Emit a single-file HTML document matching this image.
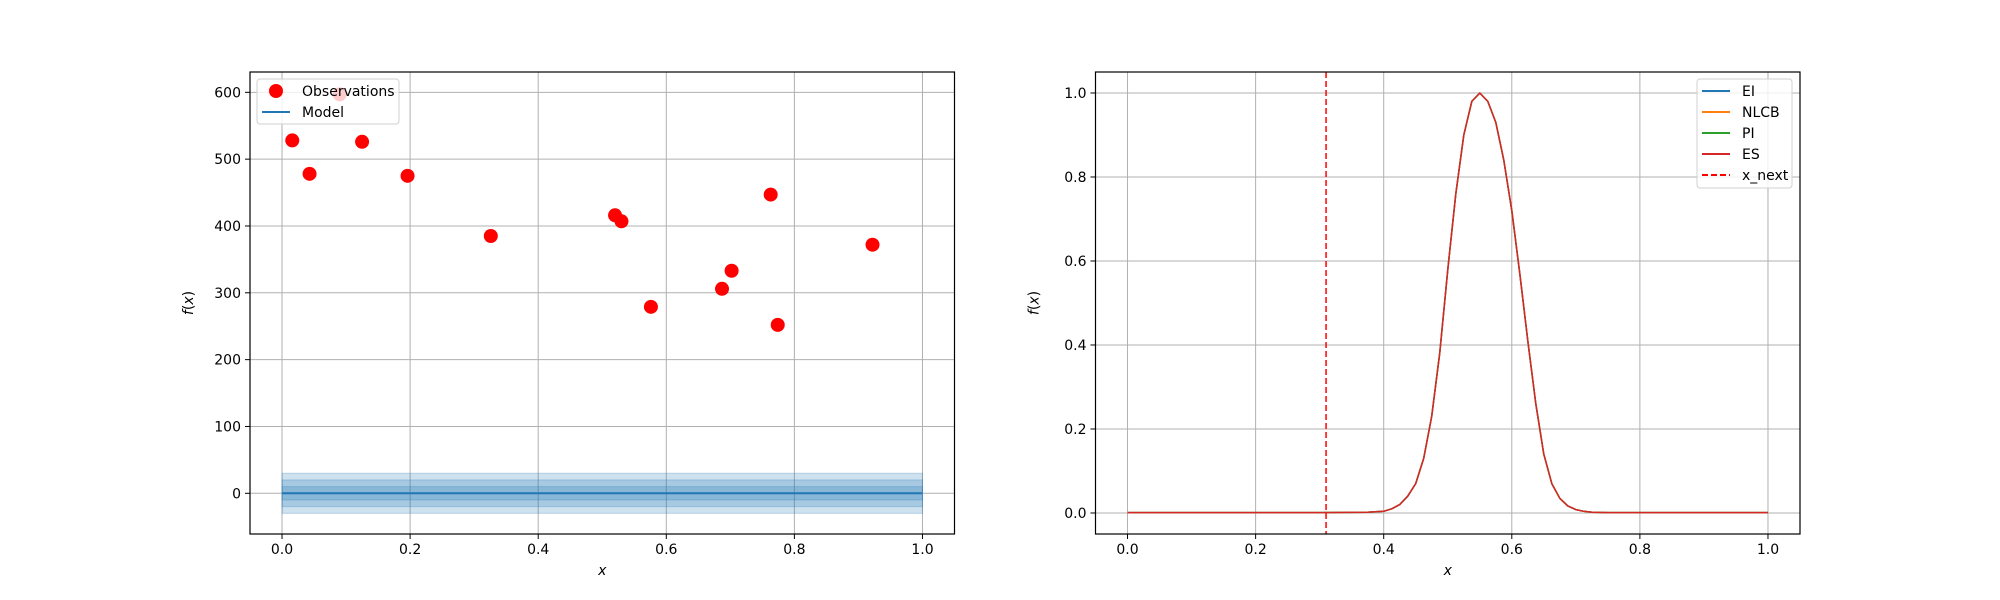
<!DOCTYPE html>
<html><head><meta charset="utf-8"><style>
body{margin:0;background:#fff;}
svg{display:block;font-family:"DejaVu Sans","Liberation Sans",sans-serif;}
</style></head><body>
<svg id="fig" width="2000" height="600" xmlns="http://www.w3.org/2000/svg"></svg>
<script>
// Left chart data
const obsX = [0.016,0.043,0.09,0.125,0.196,0.326,0.52,0.53,0.576,0.687,0.702,0.763,0.774,0.922];
const obsY = [528,478,597,526,475,385,416,407,279,306,333,447,252,372];
const modelX = [0,1];
const modelMean = [0,0];
const bandSigma = [10,20,30];
const leftYTicks = [0,100,200,300,400,500,600];
const xTicks = [0,0.2,0.4,0.6,0.8,1.0];
// Right chart data
const acqX = [0,0.1,0.2,0.3,0.375,0.4,0.4125,0.425,0.4375,0.45,0.4625,0.475,0.4875,0.5,0.5125,0.525,0.5375,0.55,0.5625,0.575,0.5875,0.6,0.6125,0.625,0.6375,0.65,0.6625,0.675,0.6875,0.7,0.7125,0.725,0.75,0.8,0.9,1.0];
const esY = [0.001,0.001,0.001,0.001,0.002,0.004,0.01,0.02,0.04,0.07,0.13,0.23,0.38,0.58,0.76,0.9,0.98,1.0,0.98,0.93,0.84,0.72,0.57,0.41,0.26,0.14,0.07,0.035,0.017,0.008,0.004,0.002,0.001,0.001,0.001,0.001];
const eiY = esY.slice(), nlcbY = esY.slice(), piY = esY.slice();
const xNext = 0.31;
const rightYTicks = [0.0,0.2,0.4,0.6,0.8,1.0];

const NS="http://www.w3.org/2000/svg";
const svg=document.getElementById('fig');
function mk(tag,attrs,parent){const e=document.createElementNS(NS,tag);for(const k in attrs)e.setAttribute(k,attrs[k]);(parent||svg).appendChild(e);return e;}
const T=72,B=534;
function axes(L,R,ymin,ymax){
  return {x:v=>L+(v+0.05)/1.1*(R-L), y:v=>B-(v-ymin)/(ymax-ymin)*(B-T), L,R};
}
function frame(ax,yt,fmt,name){
  const g=mk('g',{});
  
  
  xTicks.forEach(t=>{const X=ax.x(t);
    const l=mk('line',{x1:X,x2:X,y1:T,y2:B,stroke:'#b0b0b0','stroke-width':1},g);
    
    mk('line',{x1:X,x2:X,y1:B,y2:B+5,stroke:'#000'},g);
    const tx=mk('text',{x:X,y:B+20,'font-size':14,'text-anchor':'middle'},g);tx.textContent=t.toFixed(1);
    
  });
  yt.forEach(t=>{const Y=ax.y(t);
    const l=mk('line',{x1:ax.L,x2:ax.R,y1:Y,y2:Y,stroke:'#b0b0b0','stroke-width':1},g);
    
    mk('line',{x1:ax.L-5,x2:ax.L,y1:Y,y2:Y,stroke:'#000'},g);
    const tx=mk('text',{x:ax.L-9,y:Y+5,'font-size':14,'text-anchor':'end'},g);tx.textContent=fmt(t);
    
  });
  const xl=mk('text',{x:(ax.L+ax.R)/2,y:B+41,'font-size':14,'text-anchor':'middle','font-style':'italic'},g);xl.textContent='x';
  
  const yl=mk('text',{x:0,y:0,'font-size':14,'text-anchor':'middle',transform:`translate(${ax.L-57},${(T+B)/2}) rotate(-90)`},g);
  yl.innerHTML='<tspan font-style="italic">f</tspan>(<tspan font-style="italic">x</tspan>)';
  
  return g;
}
function spines(ax){const r=mk('rect',{x:ax.L,y:T,width:ax.R-ax.L,height:B-T,fill:'none',stroke:'#000','stroke-width':1.2});
  }

// LEFT
const A=axes(250,954.5,-60.9,630.4);
frame(A,leftYTicks,t=>String(t),'left');
bandSigma.slice().reverse().forEach(s=>{
  const r=mk('rect',{x:A.x(modelX[0]),y:A.y(modelMean[0]+s),width:A.x(modelX[1])-A.x(modelX[0]),height:A.y(-s)-A.y(s),fill:'#1f77b4','fill-opacity':0.22,stroke:'#1f77b4','stroke-opacity':0.25});
  
});
const ml=mk('line',{x1:A.x(modelX[0]),x2:A.x(modelX[1]),y1:A.y(modelMean[0]),y2:A.y(modelMean[1]),stroke:'#1f77b4','stroke-width':2});

obsX.forEach((x,i)=>{const c=mk('circle',{cx:A.x(x),cy:A.y(obsY[i]),r:7,fill:'#ff0000'});
  });
spines(A);
// left legend
const lg=mk('g',{});

mk('rect',{x:257,y:79,width:142,height:45,rx:3,fill:'#fff','fill-opacity':0.8,stroke:'#d0d0d0'},lg);
mk('circle',{cx:276,cy:91,r:7,fill:'#ff0000'},lg);
mk('text',{x:302,y:96,'font-size':14},lg).textContent='Observations';
mk('line',{x1:262,x2:290,y1:112,y2:112,stroke:'#1f77b4','stroke-width':2},lg);
mk('text',{x:302,y:117,'font-size':14},lg).textContent='Model';

// RIGHT
const Bx=axes(1095.5,1800,-0.05,1.05);
frame(Bx,rightYTicks,t=>t.toFixed(1),'right');
function series(ys,color,name){
  const d=acqX.map((x,i)=>(i?'L':'M')+Bx.x(x).toFixed(1)+','+Bx.y(ys[i]).toFixed(1)).join(' ');
  const p=mk('path',{d,fill:'none',stroke:color,'stroke-width':1.5,'stroke-linejoin':'round'});
  
}
series(eiY,'#1f77b4','ei-line');series(nlcbY,'#ff7f0e','nlcb-line');series(piY,'#2ca02c','pi-line');series(esY,'#d62728','es-line');
const vl=mk('line',{x1:Bx.x(xNext),x2:Bx.x(xNext),y1:T,y2:B,stroke:'#ff0000','stroke-width':1.5,'stroke-dasharray':'6,3'});

spines(Bx);
const rg=mk('g',{});

mk('rect',{x:1697,y:79,width:95,height:109,rx:3,fill:'#fff','fill-opacity':0.8,stroke:'#d0d0d0'},rg);
[['EI','#1f77b4',''],['NLCB','#ff7f0e',''],['PI','#2ca02c',''],['ES','#d62728',''],['x_next','#ff0000','6,3']].forEach((e,i)=>{
  const y=91+i*21;
  mk('line',{x1:1702,x2:1730,y1:y,y2:y,stroke:e[1],'stroke-width':2,'stroke-dasharray':e[2]},rg);
  mk('text',{x:1742,y:y+5,'font-size':14},rg).textContent=e[0];
});
</script>
</body></html>
